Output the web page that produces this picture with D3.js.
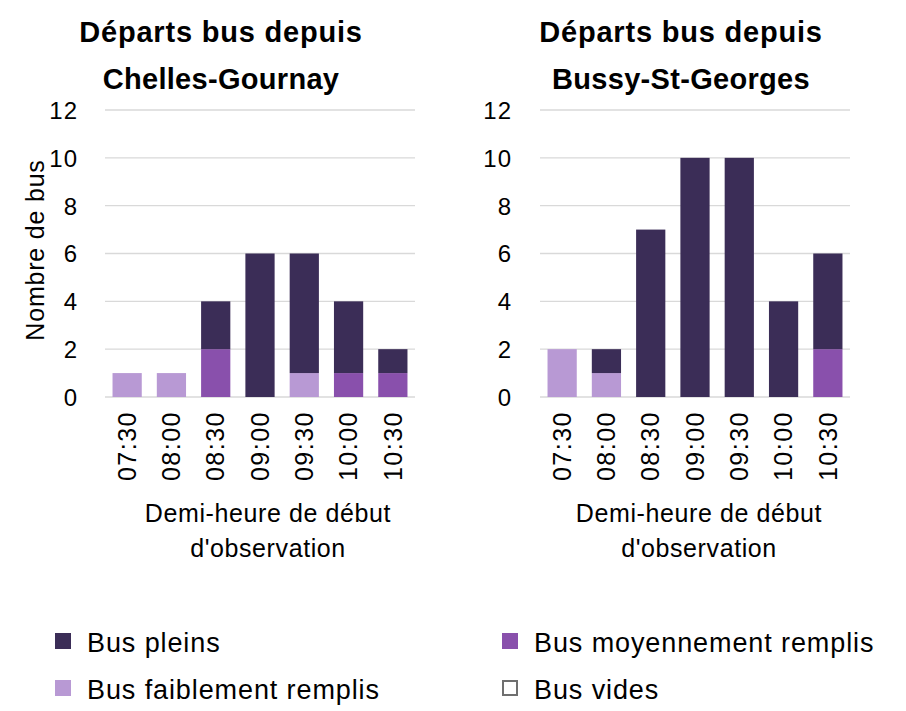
<!doctype html>
<html>
<head>
<meta charset="utf-8">
<title>Départs bus</title>
<script src="https://cdn.jsdelivr.net/npm/d3@7"></script>
<style>
  body { margin: 0; background: #fff; }
  text { font-family: "Liberation Sans", Arial, sans-serif; fill: #000; }
</style>
</head>
<body>
<div id="chart-area"></div>
<script>
var halfHours = ["07:30", "08:00", "08:30", "09:00", "09:30", "10:00", "10:30"];
var seriesNames = ["Bus vides", "Bus faiblement remplis", "Bus moyennement remplis", "Bus pleins"];
var yTicks = [0, 2, 4, 6, 8, 10, 12];

// Chelles-Gournay
var chellesVides   = [0, 0, 0, 0, 0, 0, 0];
var chellesFaibles = [1, 1, 0, 0, 1, 0, 0];
var chellesMoyens  = [0, 0, 2, 0, 0, 1, 1];
var chellesPleins  = [0, 0, 2, 6, 5, 3, 1];

// Bussy-St-Georges
var bussyVides   = [0, 0, 0, 0, 0, 0, 0];
var bussyFaibles = [2, 1, 0, 0, 0, 0, 0];
var bussyMoyens  = [0, 0, 0, 0, 0, 0, 2];
var bussyPleins  = [0, 1, 7, 10, 10, 4, 4];

var colors = {
    "Bus vides": "#ffffff",
    "Bus faiblement remplis": "#b899d4",
    "Bus moyennement remplis": "#8950ac",
    "Bus pleins": "#3b2d57"
};

var svg = d3.select("#chart-area").append("svg").attr("width", 906).attr("height", 711);

function makeRows(vides, faibles, moyens, pleins) {
    return halfHours.map(function(h, i) {
        return { heure: h, "Bus vides": vides[i], "Bus faiblement remplis": faibles[i],
                 "Bus moyennement remplis": moyens[i], "Bus pleins": pleins[i] };
    });
}

function drawChart(opts) {
    var g = svg.append("g");
    var x = d3.scaleBand().domain(halfHours).range([opts.left, opts.right]).paddingInner(0.34).paddingOuter(0.17);
    var y = d3.scaleLinear().domain([0, 12]).range([397, 110]);

    // Titles
    g.append("text").attr("x", opts.titleX).attr("y", 42).attr("text-anchor", "middle")
        .attr("font-size", "29px").attr("font-weight", "bold").attr("letter-spacing", "0.8px")
        .text("Départs bus depuis");
    g.append("text").attr("x", opts.titleX).attr("y", 89).attr("text-anchor", "middle")
        .attr("font-size", "29px").attr("font-weight", "bold").attr("letter-spacing", "0.3px")
        .text(opts.title);

    // Gridlines
    g.append("g").selectAll("line").data(yTicks).enter().append("line")
        .attr("x1", opts.left).attr("x2", opts.right)
        .attr("y1", function(d) { return y(d); }).attr("y2", function(d) { return y(d); })
        .attr("stroke", "#d9d9d9").attr("stroke-width", 1.3);

    // Y axis labels
    var yAxis = d3.axisLeft(y).tickValues(yTicks).tickSize(0).tickPadding(0);
    var ya = g.append("g").attr("transform", "translate(" + opts.yLabelX + ",0)").call(yAxis);
    ya.select(".domain").remove();
    ya.selectAll("text").attr("font-size", "24px").attr("fill", "#000").attr("dy", "0.35em")
        .attr("letter-spacing", "1px")
        .style("font-family", "\"Liberation Sans\", sans-serif");

    // Stacked bars
    var stack = d3.stack().keys(seriesNames);
    var layers = stack(opts.rows);
    g.append("g").selectAll("g").data(layers).enter().append("g")
        .attr("fill", function(d) { return colors[d.key]; })
        .selectAll("rect").data(function(d) { return d; }).enter().append("rect")
        .attr("x", function(d) { return x(d.data.heure); })
        .attr("width", x.bandwidth())
        .attr("y", function(d) { return y(d[1]); })
        .attr("height", function(d) { return y(d[0]) - y(d[1]); });

    // X tick labels (rotated)
    var xAxis = d3.axisBottom(x).tickSize(0).tickPadding(0);
    var xa = g.append("g").attr("transform", "translate(0,397)").call(xAxis);
    xa.select(".domain").remove();
    xa.selectAll("text").attr("font-size", "25px").attr("fill", "#000")
        .attr("letter-spacing", "1.5px")
        .style("font-family", "\"Liberation Sans\", sans-serif")
        .attr("text-anchor", "end").attr("transform", "rotate(-90)")
        .attr("x", -14).attr("y", 0).attr("dy", "0.35em");

    // X title
    g.append("text").attr("x", opts.xTitleX).attr("y", 522).attr("text-anchor", "middle")
        .attr("font-size", "25px").attr("letter-spacing", "0.6px").text("Demi-heure de début");
    g.append("text").attr("x", opts.xTitleX).attr("y", 557).attr("text-anchor", "middle")
        .attr("font-size", "25px").attr("letter-spacing", "0.6px").text("d'observation");

    if (opts.yTitle) {
        g.append("text").attr("transform", "translate(44,250) rotate(-90)").attr("text-anchor", "middle")
            .attr("font-size", "25px").attr("letter-spacing", "0.8px").text("Nombre de bus");
    }
}

drawChart({ left: 105, right: 415, yLabelX: 78, titleX: 221, xTitleX: 268, yTitle: true,
    title: "Chelles-Gournay", rows: makeRows(chellesVides, chellesFaibles, chellesMoyens, chellesPleins) });
drawChart({ left: 540, right: 850, yLabelX: 512, titleX: 681, xTitleX: 699, yTitle: false,
    title: "Bussy-St-Georges", rows: makeRows(bussyVides, bussyFaibles, bussyMoyens, bussyPleins) });

// Legend
var legendItems = [
    { name: "Bus pleins", x: 55, y: 641 },
    { name: "Bus moyennement remplis", x: 502, y: 641 },
    { name: "Bus faiblement remplis", x: 55, y: 688 },
    { name: "Bus vides", x: 502, y: 688 }
];
var legend = svg.append("g");
legendItems.forEach(function(item) {
    var row = legend.append("g").attr("transform", "translate(" + item.x + "," + item.y + ")");
    var vide = item.name == "Bus vides";
    row.append("rect").attr("x", vide ? 1 : 0).attr("y", vide ? -7 : -8)
        .attr("width", vide ? 14 : 16).attr("height", vide ? 14 : 16)
        .attr("fill", colors[item.name])
        .attr("stroke", vide ? "#6f6f6f" : "none").attr("stroke-width", 2);
    row.append("text").attr("x", 32).attr("y", 11)
        .attr("font-size", "27px").attr("letter-spacing", "0.9px").text(item.name);
});
</script>
</body>
</html>
